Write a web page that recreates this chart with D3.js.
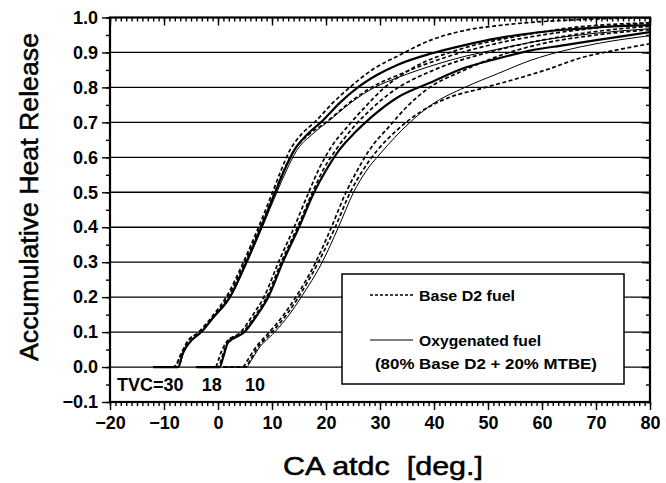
<!DOCTYPE html>
<html><head><meta charset="utf-8">
<script src="https://cdn.jsdelivr.net/npm/d3@7"></script>
<style>html,body{margin:0;padding:0;background:#fff}</style>
</head><body>
<svg id="chart" width="666" height="483"></svg>
<script>
// ---- data ----
const xTicks = [-20,-10,0,10,20,30,40,50,60,70,80];
const yTicks = [-0.1,0.0,0.1,0.2,0.3,0.4,0.5,0.6,0.7,0.8,0.9,1.0];
const groupLabels = ["TVC=30","18","10"];
const groupLabelX = [-18.7, -3, 5];
const legendLabels = ["Base D2 fuel","Oxygenated fuel","(80% Base D2 + 20% MTBE)"];

// Base D2 fuel (dashed) curves: [CA, fraction]
const baseTVC30a = [[-12,0],[-8.3,0],[-7,0.03],[-5.8,0.07],[-3.6,0.1],[-0.8,0.15],[1.5,0.2],[4.7,0.3],[7.5,0.4],[10.1,0.5],[11.6,0.56],[13.3,0.62],[15.4,0.665],[18.2,0.705],[21.2,0.755],[24.4,0.8],[28.5,0.85],[33.3,0.89],[39.5,0.936],[45.7,0.963],[51.9,0.977],[58,0.986],[64.2,0.992],[70.4,0.996],[80,0.999]];
const baseTVC30b = [[-12,0],[-8,0],[-6.8,0.04],[-5.2,0.08],[-3.3,0.1],[-0.5,0.15],[1.8,0.2],[5,0.3],[7.8,0.4],[10.5,0.5],[12.1,0.56],[14.1,0.62],[16.8,0.665],[20,0.7],[24,0.752],[28.4,0.8],[33.3,0.835],[40,0.875],[50,0.92],[60,0.95],[70,0.97],[80,0.985]];
const baseTVC18a = [[-4,0],[-0.5,0],[0.5,0.04],[1.5,0.07],[4.2,0.1],[6.5,0.15],[8.5,0.2],[11.2,0.3],[14.1,0.4],[16.8,0.5],[18.8,0.57],[21,0.63],[24.1,0.69],[27,0.74],[30.5,0.795],[36,0.855],[45,0.91],[55,0.945],[65,0.97],[80,0.985]];
const baseTVC18b = [[-4,0],[0,0],[1,0.04],[1.9,0.075],[4.6,0.1],[7,0.15],[9,0.2],[11.7,0.3],[14.7,0.4],[17.5,0.5],[19.5,0.565],[22,0.625],[25.3,0.69],[28.5,0.74],[32,0.785],[40,0.85],[50,0.9],[60,0.935],[70,0.96],[80,0.975]];
const baseTVC10a = [[1,0],[4.5,0],[5.5,0.02],[6.7,0.05],[9.5,0.1],[12.2,0.15],[14.4,0.2],[18.1,0.3],[21,0.4],[23.7,0.5],[25.7,0.56],[28,0.62],[31.8,0.69],[35,0.745],[38.3,0.79],[45.7,0.85],[52,0.89],[60,0.925],[70,0.95],[80,0.965]];
const baseTVC10b = [[1,0],[5,0],[6,0.02],[7.1,0.05],[10,0.1],[12.7,0.15],[14.9,0.2],[18.6,0.3],[21.7,0.4],[24.5,0.5],[26.7,0.56],[29.5,0.62],[33.3,0.68],[37.5,0.73],[42.6,0.77],[48.8,0.797],[54.9,0.823],[61.1,0.852],[67.3,0.885],[73.5,0.906],[80,0.925]];

// Oxygenated fuel (solid) curves
const oxyTVC30 = [[-12,0],[-7.4,0],[-6.5,0.04],[-5,0.075],[-3.1,0.1],[-1,0.14],[2.2,0.2],[5.25,0.3],[8,0.4],[10.6,0.5],[12.2,0.56],[14.1,0.62],[16.5,0.665],[19.4,0.705],[22.5,0.755],[25.9,0.8],[29.5,0.836],[33.3,0.865],[39.5,0.897],[45.7,0.921],[51.9,0.941],[58,0.955],[64.2,0.965],[70.4,0.972],[80,0.978]];
const oxyTVC30b = [[-12,0],[-7.3,0],[-6.4,0.04],[-4.9,0.075],[-3,0.1],[-0.8,0.14],[2.3,0.2],[5.4,0.3],[8.2,0.4],[10.9,0.5],[12.6,0.56],[14.6,0.62],[17.4,0.665],[20.6,0.705],[24.5,0.755],[29,0.8],[33.3,0.828],[40,0.864],[46,0.89],[52,0.91],[60,0.935],[70,0.955],[80,0.968]];
const oxyTVC18 = [[-4,0],[0.3,0],[1,0.03],[1.85,0.07],[4.9,0.1],[7.3,0.15],[9.3,0.2],[12,0.3],[15,0.4],[17.8,0.5],[19.9,0.56],[22.4,0.62],[25.3,0.67],[28.4,0.715],[33.3,0.772],[39.5,0.815],[45.7,0.856],[51.9,0.883],[58,0.906],[64.2,0.921],[70.4,0.936],[80,0.958]];
const oxyTVC10 = [[1,0],[5.25,0],[6.2,0.02],[7.4,0.05],[10.5,0.1],[13.2,0.15],[15.4,0.2],[19.3,0.3],[22.3,0.4],[25.1,0.5],[27.4,0.56],[30.3,0.615],[35.2,0.695],[39.5,0.75],[45.7,0.8],[51.9,0.84],[58,0.878],[64,0.905],[70.4,0.926],[80,0.948]];

const baseSeries = [baseTVC30a, baseTVC30b, baseTVC18a, baseTVC18b, baseTVC10a, baseTVC10b];
const oxySeries = [oxyTVC30, oxyTVC30b, oxyTVC18, oxyTVC10];
const oxyWidths = [2.2, 1.0, 2.2, 1.0];

// ---- layout ----
const svg = d3.select("#chart");
const L = 110, R = 650, T = 17.5, B = 402;
const x = d3.scaleLinear().domain([-20, 80]).range([L, R]);
const y = d3.scaleLinear().domain([-0.1, 1.0]).range([B, T]);
const FONT = "Liberation Sans, Arial, Helvetica, sans-serif";

// gridlines
svg.append("g").selectAll("line").data(yTicks.filter(v => v > -0.05 && v < 0.95))
  .join("line").attr("x1", L).attr("x2", R)
  .attr("y1", d => y(d)).attr("y2", d => y(d))
  .attr("stroke", "#000").attr("stroke-width", 1.3);

// curves
const line = d3.line().x(d => x(d[0])).y(d => y(d[1])).curve(d3.curveMonotoneX);
svg.append("clipPath").attr("id", "pc").append("rect")
  .attr("x", L).attr("y", T).attr("width", R - L).attr("height", B - T);
const cg = svg.append("g").attr("clip-path", "url(#pc)");
cg.selectAll("path.base").data(baseSeries).join("path").attr("class", "base")
  .attr("d", line).attr("fill", "none").attr("stroke", "#000")
  .attr("stroke-width", 1.7).attr("stroke-dasharray", "4,2.5");
cg.selectAll("path.oxy").data(oxySeries).join("path").attr("class", "oxy")
  .attr("d", line).attr("fill", "none").attr("stroke", "#000")
  .attr("stroke-width", (d, i) => oxyWidths[i]);

// axes
const minorX = d3.range(-20, 81, 1);
const minorY = d3.range(-0.1, 1.0001, 0.05).map(v => +v.toFixed(2));
const ax = svg.append("g");
const tickText = g => g.selectAll("text").attr("font-size", 18).attr("font-weight", "bold")
  .attr("font-family", FONT).attr("fill", "#000");
// bottom (outward)
ax.append("g").attr("transform", `translate(0,${B})`)
  .call(d3.axisBottom(x).tickValues(minorX).tickSize(4).tickFormat(""))
  .call(g => g.select(".domain").remove());
ax.append("g").attr("transform", `translate(0,${B})`)
  .call(d3.axisBottom(x).tickValues(xTicks).tickSize(8).tickPadding(6).tickFormat(d3.format("d")))
  .call(g => g.select(".domain").remove()).call(tickText);
// top (inward)
ax.append("g").attr("transform", `translate(0,${T})`)
  .call(d3.axisBottom(x).tickValues(minorX).tickSize(4).tickFormat(""))
  .call(g => g.select(".domain").remove());
ax.append("g").attr("transform", `translate(0,${T})`)
  .call(d3.axisBottom(x).tickValues(xTicks).tickSize(8).tickFormat(""))
  .call(g => g.select(".domain").remove());
// left (outward)
ax.append("g").attr("transform", `translate(${L},0)`)
  .call(d3.axisLeft(y).tickValues(minorY).tickSize(4).tickFormat(""))
  .call(g => g.select(".domain").remove());
ax.append("g").attr("transform", `translate(${L},0)`)
  .call(d3.axisLeft(y).tickValues(yTicks).tickSize(8).tickPadding(4).tickFormat(d3.format(".1f")))
  .call(g => g.select(".domain").remove()).call(tickText);
// right (inward)
ax.append("g").attr("transform", `translate(${R},0)`)
  .call(d3.axisRight(y).tickValues(minorY).tickSize(-4).tickFormat(""))
  .call(g => g.select(".domain").remove());
ax.append("g").attr("transform", `translate(${R},0)`)
  .call(d3.axisRight(y).tickValues(yTicks).tickSize(-8).tickFormat(""))
  .call(g => g.select(".domain").remove());
ax.selectAll(".tick line").attr("stroke", "#000").attr("stroke-width", 1.4);
// frame
svg.append("rect").attr("x", L).attr("y", T).attr("width", R - L).attr("height", B - T)
  .attr("fill", "none").attr("stroke", "#000").attr("stroke-width", 2.2);

// group labels
svg.append("g").selectAll("text").data(groupLabels).join("text")
  .attr("x", (d, i) => x(groupLabelX[i])).attr("y", y(-0.05) + 6)
  .attr("font-size", 18).attr("font-weight", "bold").attr("font-family", FONT).attr("fill", "#000")
  .text(d => d);

// legend
const lg = svg.append("g");
lg.append("rect").attr("x", 342).attr("y", 274).attr("width", 282).attr("height", 110)
  .attr("fill", "#fff").attr("stroke", "#000").attr("stroke-width", 1.5);
lg.append("line").attr("x1", 370).attr("x2", 413).attr("y1", 295).attr("y2", 295)
  .attr("stroke", "#000").attr("stroke-width", 1.3).attr("stroke-dasharray", "3,2");
lg.append("line").attr("x1", 370).attr("x2", 413).attr("y1", 340).attr("y2", 340)
  .attr("stroke", "#000").attr("stroke-width", 1.2);
const legendX = [419, 419, 375], legendY = [301, 346, 369], legendW = [96, 122, 222];
lg.selectAll("text").data(legendLabels).join("text")
  .attr("x", (d, i) => legendX[i]).attr("y", (d, i) => legendY[i])
  .attr("textLength", (d, i) => legendW[i]).attr("lengthAdjust", "spacingAndGlyphs")
  .attr("font-size", 15).attr("font-weight", "bold").attr("font-family", FONT).attr("fill", "#000")
  .text(d => d);

// axis titles
svg.append("text").attr("x", 383).attr("y", 475).attr("text-anchor", "middle")
  .attr("font-size", 25).attr("font-family", FONT).attr("fill", "#000")
  .attr("stroke", "#000").attr("stroke-width", 0.5)
  .attr("textLength", 200).attr("lengthAdjust", "spacingAndGlyphs")
  .attr("xml:space", "preserve").text("CA atdc  [deg.]");
svg.append("text").attr("transform", "translate(38,197) rotate(-90)").attr("text-anchor", "middle")
  .attr("font-size", 25).attr("font-family", FONT).attr("fill", "#000")
  .attr("stroke", "#000").attr("stroke-width", 0.5)
  .attr("textLength", 328).attr("lengthAdjust", "spacingAndGlyphs")
  .text("Accumulative Heat Release");
</script>
</body></html>
